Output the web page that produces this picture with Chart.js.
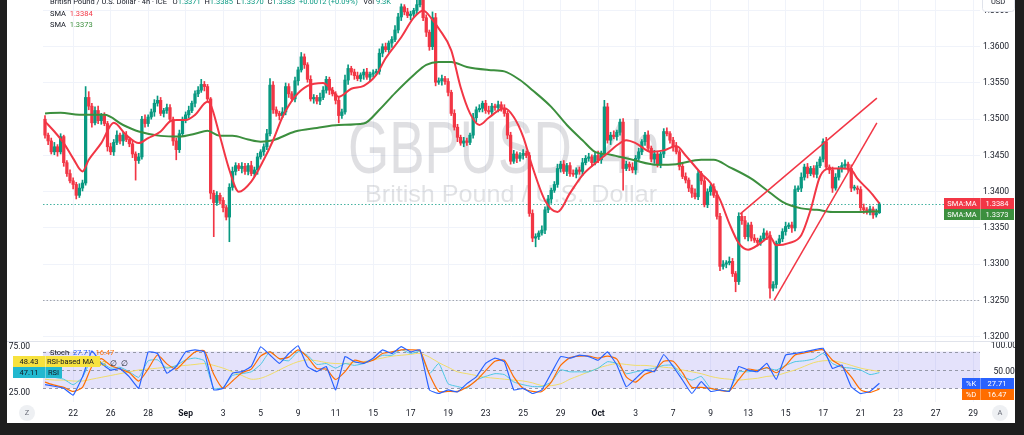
<!DOCTYPE html>
<html>
<head>
<meta charset="utf-8">
<script src="https://cdn.jsdelivr.net/npm/chart.js@4.4.1/dist/chart.umd.min.js"></script>
<style>
  html, body { margin: 0; padding: 0; width: 1024px; height: 435px; overflow: hidden; background: #1e1e1e; }
  #frame { position: absolute; left: 7px; top: 0; width: 1008px; height: 423px; background: #fff; }
  #priceCanvas { position: absolute; left: 0; top: 0; }
  #oscCanvas { position: absolute; left: 0; top: 341px; }
</style>
</head>
<body>
<div id="frame">
  <canvas id="priceCanvas" width="1008" height="341"></canvas>
  <canvas id="oscCanvas" width="1008" height="82"></canvas>
</div>
<script>
/* ============================================
   GBPUSD 4h - candles, SMAs, Stoch + RSI pane
   ============================================ */

// ── Data ────────────────────────────────────────────────
const firstOpen = 1.3500;
const closes = [
  1.3478,1.3470,1.3455,1.3462,1.3455,1.3476,1.3440,1.3425,1.3415,1.3410,1.3395,1.3405,
  1.3412,1.3530,1.3518,1.3495,1.3512,1.3498,1.3505,1.3494,1.3462,1.3455,1.3468,1.3478,
  1.3470,1.3478,1.3472,1.3466,1.3452,1.3443,1.3448,1.3500,1.3494,1.3503,1.3510,1.3522,
  1.3526,1.3508,1.3512,1.3516,1.3500,1.3470,1.3458,1.3480,1.3500,1.3506,1.3512,1.3522,
  1.3535,1.3540,1.3548,1.3545,1.3528,1.3398,1.3385,1.3395,1.3388,1.3378,1.3365,1.3406,
  1.3428,1.3436,1.3432,1.3435,1.3428,1.3436,1.3425,1.3430,1.3448,1.3455,1.3462,1.3480,
  1.3547,1.3513,1.3508,1.3505,1.3510,1.3545,1.3535,1.3528,1.3553,1.3568,1.3586,1.3575,
  1.3555,1.3528,1.3530,1.3525,1.3530,1.3540,1.3555,1.3540,1.3535,1.3526,1.3505,1.3510,
  1.3554,1.3570,1.3565,1.3560,1.3556,1.3561,1.3565,1.3558,1.3562,1.3564,1.3566,1.3591,
  1.3600,1.3596,1.3605,1.3610,1.3623,1.3641,1.3655,1.3648,1.3643,1.3645,1.3650,1.3658,
  1.3664,1.3640,1.3620,1.3600,1.3640,1.3551,1.3553,1.3556,1.3552,1.3537,1.3508,1.3489,
  1.3475,1.3467,1.3470,1.3468,1.3478,1.3502,1.3513,1.3515,1.3522,1.3512,1.3510,1.3518,
  1.3516,1.3520,1.3514,1.3508,1.3478,1.3442,1.3452,1.3446,1.3450,1.3453,1.3450,1.3370,
  1.3336,1.3338,1.3343,1.3347,1.3375,1.3390,1.3402,1.3410,1.3432,1.3438,1.3428,1.3436,
  1.3425,1.3424,1.3430,1.3428,1.3440,1.3446,1.3448,1.3440,1.3450,1.3444,1.3452,1.3517,
  1.3471,1.3478,1.3476,1.3482,1.3496,1.3432,1.3438,1.3434,1.3430,1.3446,1.3455,1.3469,
  1.3478,1.3460,1.3445,1.3452,1.3437,1.3452,1.3483,1.3480,1.3471,1.3462,1.3455,1.3435,
  1.3421,1.3416,1.3405,1.3398,1.3393,1.3425,1.3415,1.3382,1.3400,1.3407,1.3395,1.3366,
  1.3297,1.3300,1.3302,1.3304,1.3287,1.3276,1.3366,1.3360,1.3338,1.3354,1.3336,1.3333,
  1.3330,1.3335,1.3343,1.3340,1.3267,1.3272,1.3329,1.3335,1.3345,1.3352,1.3354,1.3350,
  1.3403,1.3405,1.3420,1.3434,1.3425,1.3432,1.3424,1.3436,1.3445,1.3469,1.3434,1.3430,
  1.3405,1.3420,1.3432,1.3436,1.3438,1.3432,1.3405,1.3405,1.3403,1.3378,1.3375,1.3372,
  1.3376,1.3368,1.3371,1.3383
];
// wick lengths above / below the body, in pips
const wickUp = [
  5,3,4,6,3,4,2,3,5,4,3,6,  4,15,8,4,5,6,3,4,3,5,4,6,  3,4,5,3,4,3,5,4,6,3,4,5,
  6,4,3,5,4,3,4,5,3,4,6,3,  4,5,7,4,3,2,4,5,3,4,3,5,  6,4,3,5,4,3,6,4,5,3,4,6,
  9,5,4,3,6,5,4,3,5,4,6,4,  3,5,4,3,6,5,4,3,4,3,5,4,  7,5,3,4,5,3,4,5,3,4,3,6,
  4,5,3,4,6,5,4,3,5,4,3,6,  25,6,4,3,8,6,4,5,3,4,3,5, 4,3,5,4,3,6,4,5,3,4,6,4,
  3,5,4,6,3,4,5,3,4,5,3,4,  5,4,3,6,4,5,3,4,6,4,5,3,  4,5,3,4,6,4,5,3,4,6,4,9,
  5,4,6,3,4,5,4,3,6,4,5,3,  4,6,3,5,4,3,4,5,3,4,6,3,  4,5,3,4,6,4,3,5,4,3,4,6,
  4,5,3,6,4,3,5,4,6,3,4,5,  3,4,6,3,5,4,3,5,4,6,3,4,  5,3,6,4,5,3,4,5,3,4,6,3,
  4,5,3,4,6,3,5,4,3,4,5,3,  4,3,5,2
];
const wickDown = [
  4,5,3,4,6,3,5,4,3,6,5,3,  4,3,5,6,3,4,5,3,6,4,5,3,  4,6,3,4,5,27,4,3,5,4,3,6,
  4,3,5,4,3,6,14,4,3,5,4,3, 5,4,3,6,4,8,47,4,5,6,4,34, 4,5,3,6,4,5,3,4,6,3,5,4,
  3,5,4,6,3,4,5,3,4,6,3,5,  4,3,6,4,5,3,4,6,3,5,10,4, 3,6,4,5,3,4,6,3,5,4,3,4,
  5,3,4,6,3,4,5,4,3,6,4,5,  3,4,6,5,4,5,3,6,4,5,3,4,  6,3,5,4,3,4,6,3,5,4,3,5,
  4,6,3,4,5,4,3,6,4,5,3,4,  5,12,4,3,5,4,6,3,4,5,3,6, 4,3,5,4,6,3,4,5,3,4,5,3,
  4,6,3,5,4,30,3,5,4,6,3,4, 5,3,4,6,3,4,5,3,4,6,3,5,  3,4,5,6,3,4,5,3,4,5,3,4,
  6,4,5,3,4,14,4,5,3,6,4,3, 5,4,3,6,14,4,5,3,4,5,3,6, 4,3,5,4,6,3,4,5,3,4,3,5,
  6,3,4,5,3,4,5,3,6,4,5,3,  4,5,3,1
];

// moving averages (candle index -> price)
const smaFastIdx = [0,3,6,9,12,14,18,22,26,30,33,37,40,42,45,48,52,53,56,59,62,66,70,73,76,80,84,89,91,94,
  98,102,106,109,114,118,121,124,126,130,133,136,139,142,147,150,153,156,160,164,168,172,176,180,183,186,189,194,198,202,
  205,210,213,216,219,222,225,229,232,234,238,242,245,248,251,255,258,260,264,267];
const smaFast = [1.3497,1.3483,1.3467,1.3446,1.3428,1.3444,1.3467,1.3495,1.3478,1.3467,
  1.3474,1.3483,1.3497,1.3499,1.3499,1.3506,1.3524,1.3520,1.3476,1.3430,
  1.3400,1.3414,1.3444,1.3471,1.3503,1.3531,1.3546,1.3550,1.3544,1.3531,
  1.3542,1.3546,1.3561,1.3584,1.3613,1.3640,1.3650,1.3637,1.3625,1.3595,
  1.3544,1.3508,1.3492,1.3502,1.3515,1.3503,1.3476,1.3434,1.3388,1.3372,
  1.3398,1.3423,1.3439,1.3453,1.3464,1.3471,1.3467,1.3455,1.3457,1.3463,
  1.3450,1.3425,1.3412,1.3389,1.3356,1.3329,1.3320,1.3329,1.3338,1.3326,
  1.3329,1.3340,1.3375,1.3421,1.3432,1.3432,1.3430,1.3418,1.3400,1.3384];
const smaSlowIdx = [0,5,11,19,25,30,37,43,48,52,56,60,65,69,73,80,87,94,102,107,
  112,118,122,126,130,135,142,147,152,156,162,167,172,176,181,188,196,202,210,214,
  219,226,231,236,242,247,252,260,267];
const smaSlow = [1.3508,1.3509,1.3506,1.3506,1.3492,1.3483,1.3477,1.3476,1.3480,1.3484,
  1.3477,1.3477,1.3472,1.3469,1.3471,1.3483,1.3488,1.3492,1.3494,1.3513,
  1.3536,1.3561,1.3575,1.3579,1.3579,1.3572,1.3568,1.3566,1.3554,1.3540,
  1.3517,1.3492,1.3471,1.3455,1.3451,1.3444,1.3437,1.3438,1.3444,1.3444,
  1.3434,1.3418,1.3402,1.3386,1.3377,1.3375,1.3372,1.3372,1.3373];

// hand-drawn trend lines (candle index, price)
const trendUpperIdx = [222.4, 266.2];
const trendUpperPx  = [1.3369, 1.3529];
const trendLowerIdx = [233.3, 266.2];
const trendLowerPx  = [1.3250, 1.3495];
const supportLevel = 1.3250;

// oscillators, one value every 3 candles
const OSC_STEP = 3;
const stochK = [25,22,18,5,40,90,66,53,56,40, 18,88,85,47,60,88,92,88,15,18,
  47,50,60,98,82,66,85,100,60,50, 60,15,79,69,66,76,92,85,98,88,
  92,15,8,15,11,27,40,66,76,69, 15,18,8,15,47,79,76,82,79,72,
  88,63,21,37,53,50,83,60,34,8, 31,12,15,12,60,53,50,66,35,82,
  85,88,92,95,56,63,21,8,12,27.71];
const stochD = [30,24,20,12,20,60,75,62,55,48, 32,55,82,65,55,72,88,90,45,18,
  32,48,55,80,88,75,78,92,78,56, 55,35,50,72,68,72,85,88,92,92,
  90,45,12,12,12,20,33,52,70,72, 40,18,12,12,30,62,77,80,80,76,
  80,74,40,30,45,52,70,70,48,20, 20,18,14,13,35,55,52,58,48,62,
  82,86,90,92,72,60,40,15,10,16.47];
const rsi = [45,42,40,34,42,62,58,52,53,48, 42,60,61,52,55,61,63,60,30,31,
  44,46,48,56,70,62,60,70,66,56, 57,52,57,55,57,61,66,66,72,68,
  70,46,57,35,32,30,39,43,46,45, 37,34,32,32,37,50,48,48,48,52,
  59,57,46,48,50,52,55,55,43,39, 43,30,28,28,48,48,50,52,50,55,
  59,60,62,68,57,53,52,50,45,47.11];
const rsiMA = [40,39,39,38,38,40,42,44,46,48, 50,51,52,53,54,55,56,57,55,52,
  48,44,40,41,45,50,55,59,61,60, 58,57,57,58,59,61,63,65,66,67,
  68,64,58,53,48,46,44,42,41,40, 39,38,36,33,33,35,40,44,48,52,
  55,57,56,55,55,54,53,52,50,48, 46,43,41,40,39,40,41,43,44,47,
  50,54,58,60,60,58,55,52,50,48.43];
const rsiBand = [30, 70];

// axes
const priceTicks = [1.320,1.325,1.330,1.335,1.340,1.345,1.350,1.355,1.360,1.365];
const stochTicks = [50, 100];
const rsiTicks = [25, 75];
const dateTickIdx = [9,21,33,45,57,69,81,93,105,117,129,141,153,165,177,189,201,213,225,237,249,261,273,285,297];
const dateLabels = ['22','26','28','Sep','3','5','9','11','15','17','19','23','25','29','Oct','3','7','9','13','15','17','21','23','27','29'];
const monthLabels = ['Sep', 'Oct'];

// ── Setup ───────────────────────────────────────────────
const UP = '#089981', DOWN = '#f23645', SLOW = '#3c8f3e', INK = '#131722';
const PIP = 0.0001;
const FONT = 'Roboto, "Liberation Sans", sans-serif';

Chart.defaults.font.family = FONT;
Chart.defaults.font.size = 8.5;
Chart.defaults.color = INK;

const opens = closes.map((c, i) => (i === 0 ? firstOpen : closes[i - 1]));
const highs = closes.map((c, i) => Math.max(opens[i], c) + wickUp[i] * PIP);
const lows  = closes.map((c, i) => Math.min(opens[i], c) - wickDown[i] * PIP);
const candleColors = closes.map((c, i) => (c >= opens[i] ? UP : DOWN));

const pts = (xs, ys) => xs.map((x, k) => ({ x, y: ys[k] }));
const oscIdx = stochK.map((_, k) => k * OSC_STEP);

const X_MIN = -0.64, X_MAX = 299.2;

// no label padding on the value axes: the panes run edge to edge
const noPad = s => { s.paddingTop = 0; s.paddingBottom = 0; };

function timeAxis(extra) {
  return Object.assign({
    type: 'linear', min: X_MIN, max: X_MAX, offset: false,
    afterBuildTicks: s => { s.ticks = dateTickIdx.map(v => ({ value: v })); },
    grid: { color: '#f0f3fa', drawTicks: false, offset: false },
    border: { display: false },
  }, extra);
}

function runs(ctx, x, y, parts) {
  parts.forEach(([t, c]) => { ctx.fillStyle = c; ctx.fillText(t, x, y); x += ctx.measureText(t).width; });
}

function fitted(ctx, text, font, cx, baseY, width) {
  ctx.font = font;
  const w = ctx.measureText(text).width;
  ctx.save();
  ctx.translate(cx, baseY);
  ctx.scale(width / w, 1);
  ctx.textAlign = 'center';
  ctx.textBaseline = 'alphabetic';
  ctx.fillText(text, 0, 0);
  ctx.restore();
}

function tag(ctx, x, yc, w1, w2, label, value, bg, fg) {
  ctx.fillStyle = bg;
  ctx.fillRect(x, Math.round(yc - 5.5), w1 + w2, 11);
  ctx.fillStyle = 'rgba(255,255,255,0.35)';
  ctx.fillRect(x + w1, Math.round(yc - 5.5), 1, 11);
  ctx.fillStyle = fg;
  ctx.textBaseline = 'middle';
  ctx.textAlign = 'center';
  ctx.fillText(label, x + w1 / 2, yc + 0.5);
  ctx.fillText(value, x + w1 + w2 / 2, yc + 0.5);
}

// ── Price pane ──────────────────────────────────────────
const pricePaint = {
  id: 'pricePaint',
  beforeDatasetsDraw(chart) {
    const { ctx, chartArea: a, scales: { y } } = chart;
    ctx.save();
    ctx.beginPath();
    ctx.rect(a.left, a.top, a.right - a.left, a.bottom - a.top);
    ctx.clip();
    ctx.fillStyle = 'rgba(120, 123, 134, 0.24)';
    fitted(ctx, 'GBPUSD, 4h', '74px "Liberation Sans", sans-serif', 497, 173, 312);
    ctx.fillStyle = 'rgba(120, 123, 134, 0.22)';
    fitted(ctx, 'British Pound / U.S. Dollar', '24px "Liberation Sans", sans-serif', 504, 202, 292);

    ctx.lineWidth = 1;
    ctx.setLineDash([1.5, 2]);
    let yy = Math.round(y.getPixelForValue(closes[closes.length - 1])) + 0.5;
    ctx.strokeStyle = 'rgba(8, 153, 129, 0.75)';
    ctx.beginPath(); ctx.moveTo(a.left, yy); ctx.lineTo(a.right, yy); ctx.stroke();
    yy = Math.round(y.getPixelForValue(supportLevel)) + 0.5;
    ctx.strokeStyle = '#a3a6af';
    ctx.beginPath(); ctx.moveTo(a.left, yy); ctx.lineTo(a.right, yy); ctx.stroke();
    ctx.restore();
  },
  afterDraw(chart) {
    const { ctx, scales: { y } } = chart;
    ctx.save();
    ctx.font = '7.5px ' + FONT;
    ctx.textAlign = 'left';
    ctx.textBaseline = 'alphabetic';
    runs(ctx, 43, 4, [
      ['British Pound / U.S. Dollar · 4h · ICE   ', INK],
      ['O', INK], ['1.3371  ', UP], ['H', INK], ['1.3385  ', UP],
      ['L', INK], ['1.3370  ', UP], ['C', INK], ['1.3383  ', UP],
      ['+0.0012 (+0.09%)   ', UP], ['Vol ', INK], ['9.3K', UP],
    ]);
    const fastLast = smaFast[smaFast.length - 1];
    const slowLast = smaSlow[smaSlow.length - 1];
    runs(ctx, 43, 16, [['SMA  ', INK], [fastLast.toFixed(4), DOWN]]);
    runs(ctx, 43, 27, [['SMA  ', INK], [slowLast.toFixed(4), SLOW]]);

    // price scale tags
    const yFast = y.getPixelForValue(fastLast);
    const ySlow = Math.max(y.getPixelForValue(slowLast), yFast + 11);
    tag(ctx, 937, yFast, 36, 34, 'SMA:MA', fastLast.toFixed(4), DOWN, '#fff');
    tag(ctx, 937, ySlow, 36, 34, 'SMA:MA', slowLast.toFixed(4), SLOW, '#fff');

    // currency box at the top of the scale
    ctx.fillStyle = '#fff';
    ctx.strokeStyle = '#e0e3eb';
    ctx.beginPath();
    ctx.roundRect(975.5, -4.5, 32, 16, 3);
    ctx.fill(); ctx.stroke();
    ctx.fillStyle = INK;
    ctx.textAlign = 'center';
    ctx.textBaseline = 'middle';
    ctx.fillText('USD', 991, 2);
    ctx.restore();
  }
};

new Chart(document.getElementById('priceCanvas'), {
  type: 'bar',
  data: {
    datasets: [
      { type: 'line', label: 'trend upper', data: pts(trendUpperIdx, trendUpperPx),
        borderColor: DOWN, borderWidth: 1.5, pointRadius: 0, order: 1 },
      { type: 'line', label: 'trend lower', data: pts(trendLowerIdx, trendLowerPx),
        borderColor: DOWN, borderWidth: 1.5, pointRadius: 0, order: 1 },
      { type: 'line', label: 'SMA fast', data: pts(smaFastIdx, smaFast),
        borderColor: DOWN, borderWidth: 2, pointRadius: 0, cubicInterpolationMode: 'monotone', order: 2 },
      { type: 'line', label: 'SMA slow', data: pts(smaSlowIdx, smaSlow),
        borderColor: SLOW, borderWidth: 2, pointRadius: 0, cubicInterpolationMode: 'monotone', order: 3 },
      { label: 'bodies', data: closes.map((c, i) => ({ x: i, y: [opens[i], c] })),
        backgroundColor: candleColors, barThickness: 2.6, minBarLength: 1, grouped: false, order: 4 },
      { label: 'wicks', data: closes.map((c, i) => ({ x: i, y: [lows[i], highs[i]] })),
        backgroundColor: candleColors, barThickness: 1, grouped: false, order: 5 },
    ]
  },
  options: {
    responsive: false, animation: false, devicePixelRatio: 1,
    layout: { padding: { left: 36, top: 0, right: 0, bottom: 0 } },
    plugins: { legend: { display: false }, tooltip: { enabled: false } },
    scales: {
      x: timeAxis({ ticks: { display: false }, afterFit: s => { s.height = 0; s.paddingLeft = 0; s.paddingRight = 0; } }),
      y: {
        type: 'linear', position: 'right', min: 1.319407, max: 1.366441,
        afterBuildTicks: s => { s.ticks = priceTicks.map(v => ({ value: v })); },
        afterFit: s => { s.width = 35; noPad(s); },
        grid: { color: '#f0f3fa', drawTicks: false },
        border: { display: false },
        ticks: { crossAlign: 'center', padding: 3, callback: v => v.toFixed(4) }
      }
    }
  },
  plugins: [pricePaint]
});

// ── Oscillator pane ─────────────────────────────────────
const oscPaint = {
  id: 'oscPaint',
  beforeDatasetsDraw(chart) {
    const { ctx, chartArea: a, scales: { yR } } = chart;
    const top = yR.getPixelForValue(rsiBand[1]);
    const bot = yR.getPixelForValue(rsiBand[0]);
    ctx.save();
    ctx.fillStyle = 'rgba(120, 110, 235, 0.2)';
    ctx.fillRect(a.left, top, a.right - a.left, bot - top);
    ctx.strokeStyle = '#9598a8';
    ctx.lineWidth = 1;
    ctx.setLineDash([3, 3]);
    [rsiBand[1], 50, rsiBand[0]].forEach(v => {
      const yy = Math.round(yR.getPixelForValue(v)) + 0.5;
      ctx.beginPath(); ctx.moveTo(a.left, yy); ctx.lineTo(a.right, yy); ctx.stroke();
    });
    ctx.restore();
  },
  afterDraw(chart) {
    const { ctx, scales: { yS, yR } } = chart;
    const kLast = stochK[stochK.length - 1], dLast = stochD[stochD.length - 1];
    const rLast = rsi[rsi.length - 1], mLast = rsiMA[rsiMA.length - 1];
    ctx.save();
    ctx.fillStyle = '#e0e3eb';
    ctx.fillRect(0, 0, 1008, 1);

    ctx.font = '7.5px ' + FONT;
    ctx.textAlign = 'left';
    ctx.textBaseline = 'alphabetic';
    runs(ctx, 43, 14, [['Stoch  ', INK], [kLast.toFixed(2) + '  ', '#2962ff'], [dLast.toFixed(2), '#ff6d00']]);
    runs(ctx, 43, 25, [['RSI  ', INK], [rLast.toFixed(2) + '  ', '#26b5cc'], [mLast.toFixed(2) + '  ', '#d9b400'], ['∅  ∅', INK]]);

    // left scale tags (RSI)
    const yRsi = yR.getPixelForValue(rLast);
    const yMa = yRsi - 11;
    tag(ctx, 6, yMa, 32, 55, mLast.toFixed(2), '', '#f7e23e', INK);
    ctx.textAlign = 'left';
    ctx.fillText('RSI-based MA', 40, yMa + 0.5);
    tag(ctx, 6, yRsi, 32, 17, rLast.toFixed(2), 'RSI', '#22b8cf', INK);

    // right scale tags (Stoch)
    const yK = yS.getPixelForValue(kLast);
    const yD = yK + 11;
    tag(ctx, 955, yK, 18, 34, '%K', kLast.toFixed(2), '#2962ff', '#fff');
    tag(ctx, 955, yD, 18, 34, '%D', dLast.toFixed(2), '#ff6d00', '#fff');

    // scale corner buttons
    [[20, 'Z'], [993, 'A']].forEach(([cx, t]) => {
      ctx.fillStyle = '#eef0f3';
      ctx.beginPath(); ctx.arc(cx, 72, 8, 0, Math.PI * 2); ctx.fill();
      ctx.fillStyle = '#6a6d78';
      ctx.textAlign = 'center'; ctx.textBaseline = 'middle';
      ctx.fillText(t, cx, 72.5);
    });
    ctx.restore();
  }
};

const oscLine = (label, data, axis, color, width, tension, order) => ({
  label, data: pts(oscIdx, data), yAxisID: axis, borderColor: color,
  borderWidth: width, pointRadius: 0, tension, order
});

new Chart(document.getElementById('oscCanvas'), {
  type: 'line',
  data: {
    datasets: [
      oscLine('%K', stochK, 'yS', '#2962ff', 1.2, 0.1, 1),
      oscLine('%D', stochD, 'yS', '#ff6d00', 1.2, 0.2, 2),
      oscLine('RSI', rsi, 'yR', '#4cc7e3', 1, 0.15, 3),
      oscLine('RSI-based MA', rsiMA, 'yR', '#f0dc6a', 1, 0.3, 4),
    ]
  },
  options: {
    responsive: false, animation: false, devicePixelRatio: 1,
    layout: { padding: 0 },
    plugins: { legend: { display: false }, tooltip: { enabled: false } },
    scales: {
      x: timeAxis({
        afterFit: s => { s.height = 21; s.paddingLeft = 0; s.paddingRight = 0; },
        ticks: {
          autoSkip: false, maxRotation: 0, padding: 7,
          callback: v => dateLabels[dateTickIdx.indexOf(v)],
          font: c => ({ size: 8.5, weight: c.tick && monthLabels.includes(dateLabels[dateTickIdx.indexOf(c.tick.value)]) ? 'bold' : 'normal' })
        }
      }),
      yS: {
        type: 'linear', position: 'right', min: -8.3, max: 109,
        afterBuildTicks: s => { s.ticks = stochTicks.map(v => ({ value: v })); },
        afterFit: s => { s.width = 35; noPad(s); },
        grid: { display: false }, border: { display: false },
        ticks: { crossAlign: 'center', padding: 3, callback: v => v.toFixed(2) }
      },
      yR: {
        type: 'linear', position: 'left', min: 15.2, max: 81.5,
        afterBuildTicks: s => { s.ticks = rsiTicks.map(v => ({ value: v })); },
        afterFit: s => { s.width = 36; noPad(s); },
        grid: { display: false }, border: { display: false },
        ticks: { padding: 5, callback: v => v.toFixed(2) }
      }
    }
  },
  plugins: [oscPaint]
});
</script>
</body>
</html>
